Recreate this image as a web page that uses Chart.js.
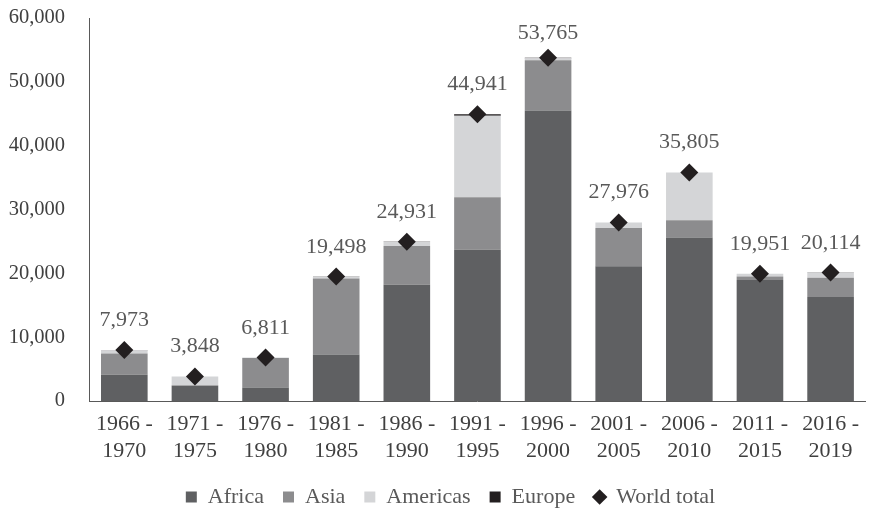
<!DOCTYPE html>
<html lang="en">
<head>
  <meta charset="UTF-8">
  <title>Stacked bars with world total</title>
  <script src="https://cdn.jsdelivr.net/npm/chart.js"></script>
  <style>
    html, body {
      margin: 0;
      padding: 0;
      background: #fff;
    }
    #wrap {
      width: 869px;
      height: 514px;
    }
  </style>
</head>
<body>

<div id="wrap"><canvas id="myChart"></canvas></div>

<script>
// periods on the x axis
const periods = [
  ['1966 -', '1970'], ['1971 -', '1975'], ['1976 -', '1980'], ['1981 -', '1985'],
  ['1986 -', '1990'], ['1991 -', '1995'], ['1996 -', '2000'], ['2001 -', '2005'],
  ['2006 -', '2010'], ['2011 -', '2015'], ['2016 -', '2019']
];

// values
const africa   = [4100, 2400, 2100, 7300, 18200, 23700, 45500, 21100, 25600, 18950, 16300];
const asia     = [3350, 50, 4650, 11900, 6100, 8200, 7900, 6000, 2700, 550, 3000];
const americas = [500, 1390, 50, 250, 600, 12800, 300, 850, 7480, 440, 800];
const europe   = [23, 8, 11, 48, 31, 241, 65, 26, 25, 11, 14];
const worldTotal = [7973, 3848, 6811, 19498, 24931, 44941, 53765, 27976, 35805, 19951, 20114];

const yTicks = [0, 10000, 20000, 30000, 40000, 50000, 60000];

const serif = "'Liberation Serif', 'Times New Roman', serif";

// numbers above the diamonds
const totalLabels = {
  id: 'totalLabels',
  afterDatasetsDraw(chart) {
    const meta = chart.getDatasetMeta(4);
    const ctx = chart.ctx;
    ctx.save();
    ctx.font = '22px ' + serif;
    ctx.fillStyle = '#595959';
    ctx.textAlign = 'center';
    ctx.textBaseline = 'alphabetic';
    meta.data.forEach((pt, i) => {
      // keep the top label inside the plot, like the original
      const y = Math.max(pt.y - 24, chart.chartArea.top + 21);
      ctx.fillText(worldTotal[i].toLocaleString('en-US'), pt.x, y);
    });
    ctx.restore();
  }
};

// the legend in the original sits a bit right of centre
const legendShift = {
  id: 'legendShift',
  afterLayout(chart) {
    if (chart.legend) {
      chart.legend.left += 14;
      chart.legend.right += 14;
    }
  }
};

const data = {
  labels: periods,
  datasets: [
    { label: 'Africa', data: africa, backgroundColor: '#5f6062', pointStyle: 'rect', order: 1 },
    { label: 'Asia', data: asia, backgroundColor: '#8c8c8e', pointStyle: 'rect', order: 1 },
    { label: 'Americas', data: americas, backgroundColor: '#d4d5d7', pointStyle: 'rect', order: 1 },
    { label: 'Europe', data: europe, backgroundColor: '#231f20', pointStyle: 'rect', order: 1 },
    {
      label: 'World total',
      type: 'line',
      data: worldTotal,
      stack: 'total',
      showLine: false,
      pointStyle: 'rectRot',
      pointRadius: 9,
      backgroundColor: '#231f20',
      borderColor: '#231f20',
      borderWidth: 0,
      order: 0
    }
  ]
};

const config = {
  type: 'bar',
  data: data,
  options: {
    responsive: true,
    maintainAspectRatio: false,
    animation: false,
    layout: {
      autoPadding: false,
      padding: { top: 18, left: 4, right: 0, bottom: -4 }
    },
    datasets: {
      bar: {
        barPercentage: 0.66,
        categoryPercentage: 1,
        borderWidth: 0
      }
    },
    scales: {
      x: {
        stacked: true,
        grid: { display: false, drawTicks: false },
        border: { color: '#595959', width: 1 },
        afterFit(axis) { axis.height = 66; },
        ticks: {
          color: '#404040',
          padding: 10,
          maxRotation: 0,
          font: { family: serif, size: 22, lineHeight: 1.23 }
        }
      },
      y: {
        stacked: true,
        min: 0,
        max: 60000,
        afterBuildTicks(axis) {
          axis.ticks = yTicks.map(v => ({ value: v }));
        },
        afterFit(axis) {
          axis.width = 85;
          axis.paddingTop = 0;
          axis.paddingBottom = 0;
        },
        grid: { display: false, drawTicks: false },
        border: { color: '#595959', width: 1 },
        ticks: {
          color: '#404040',
          padding: 24,
          font: { family: serif, size: 20.5 },
          callback: v => v.toLocaleString('en-US')
        }
      }
    },
    plugins: {
      legend: {
        position: 'bottom',
        labels: {
          usePointStyle: true,
          boxWidth: 11,
          boxHeight: 11,
          padding: 19,
          color: '#595959',
          font: { family: serif, size: 22 },
          sort: (a, b) => a.datasetIndex - b.datasetIndex
        }
      },
      tooltip: { enabled: false }
    }
  },
  plugins: [totalLabels, legendShift]
};

const ctx = document.getElementById('myChart').getContext('2d');
new Chart(ctx, config);
</script>

</body>
</html>
